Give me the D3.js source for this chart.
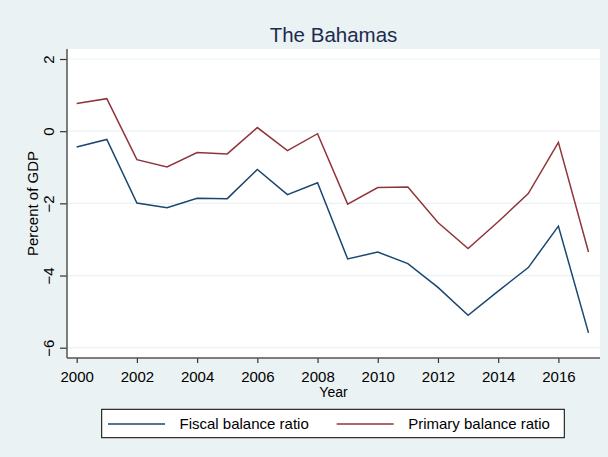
<!DOCTYPE html>
<html>
<head>
<meta charset="utf-8">
<script src="https://cdn.jsdelivr.net/npm/d3@7"></script>
<style>
  body { margin: 0; background: #fff; }
  text { font-family: "Liberation Sans", Arial, sans-serif; }
</style>
</head>
<body>
<script>
const years = [2000, 2001, 2002, 2003, 2004, 2005, 2006, 2007, 2008, 2009, 2010, 2011, 2012, 2013, 2014, 2015, 2016, 2017];
const fiscal = [-0.44, -0.23, -1.99, -2.12, -1.86, -1.87, -1.06, -1.76, -1.43, -3.54, -3.35, -3.67, -4.33, -5.10, -4.43, -3.78, -2.63, -5.59];
const primary = [0.77, 0.90, -0.79, -0.99, -0.59, -0.63, 0.10, -0.54, -0.07, -2.02, -1.56, -1.55, -2.53, -3.25, -2.51, -1.73, -0.31, -3.35];
const seriesNames = ['Fiscal balance ratio', 'Primary balance ratio'];
const xTicks = [2000, 2002, 2004, 2006, 2008, 2010, 2012, 2014, 2016];
const yTicks = [-6, -4, -2, 0, 2];

const width = 608;
const height = 457;
const plot = { left: 67, top: 49, right: 600, bottom: 358 };
const colors = ['#1a476f', '#90353b'];

const svg = d3.select('body')
    .append('svg')
    .attr('width', width)
    .attr('height', height);

// outer background
svg.append('rect')
    .attr('x', 0).attr('y', 0)
    .attr('width', width).attr('height', height)
    .attr('fill', '#eaf2f3');

svg.append('rect')
    .attr('x', plot.left).attr('y', plot.top)
    .attr('width', plot.right - plot.left)
    .attr('height', plot.bottom - plot.top)
    .attr('fill', '#fff');

const xScale = d3.scaleLinear()
    .domain([2000, 2017])
    .range([76.7, 588.5]);

const yScale = d3.scaleLinear()
    .domain([-6, 2])
    .range([347.7, 59]);

// gridlines
svg.selectAll('.grid')
    .data(yTicks)
    .enter()
    .append('line')
    .attr('class', 'grid')
    .attr('x1', plot.left)
    .attr('x2', plot.right)
    .attr('y1', (d) => yScale(d))
    .attr('y2', (d) => yScale(d))
    .attr('stroke', '#eaf2f3')
    .attr('stroke-width', 1.2);

const line = (vals) => d3.line()
    .x((d, i) => xScale(years[i]))
    .y((d) => yScale(d))(vals);

[fiscal, primary].forEach((vals, i) => {
    svg.append('path')
        .attr('d', line(vals))
        .attr('fill', 'none')
        .attr('stroke', colors[i])
        .attr('stroke-width', 1.5)
        .attr('stroke-linejoin', 'miter');
});

const xAxis = d3.axisBottom(xScale)
    .tickValues(xTicks)
    .tickFormat(d3.format('d'))
    .tickSize(5)
    .tickSizeOuter(0);

const gx = svg.append('g')
    .attr('transform', 'translate(0, ' + plot.bottom + ')')
    .call(xAxis);
gx.select('.domain').remove();
gx.selectAll('line').attr('stroke', '#333').attr('stroke-width', 1.2);
gx.selectAll('text')
    .attr('y', 24.3)
    .attr('dy', null)
    .attr('fill', '#000')
    .style('font-size', '15px');

const yAxis = d3.axisLeft(yScale)
    .tickValues(yTicks)
    .tickSize(7)
    .tickSizeOuter(0);

const gy = svg.append('g')
    .attr('transform', 'translate(' + plot.left + ', 0)')
    .call(yAxis);
gy.select('.domain').remove();
gy.selectAll('line').attr('stroke', '#333').attr('stroke-width', 1.2);
gy.selectAll('text')
    .attr('x', null)
    .attr('dy', null)
    .attr('transform', 'translate(-13, 0) rotate(-90)')
    .attr('text-anchor', 'middle')
    .attr('fill', '#000')
    .style('font-size', '15px');

// axis lines
svg.append('line')
    .attr('x1', plot.left).attr('x2', plot.left)
    .attr('y1', plot.top).attr('y2', plot.bottom)
    .attr('stroke', '#555').attr('stroke-width', 1.5);
svg.append('line')
    .attr('x1', plot.left).attr('x2', plot.right)
    .attr('y1', plot.bottom).attr('y2', plot.bottom)
    .attr('stroke', '#555').attr('stroke-width', 1.5);

const midX = (plot.left + plot.right) / 2;

svg.append('text')
    .attr('x', midX)
    .attr('y', 41.5)
    .attr('text-anchor', 'middle')
    .attr('fill', '#1c2b4f')
    .style('font-size', '20.5px')
    .text('The Bahamas');

svg.append('text')
    .attr('x', midX)
    .attr('y', 396.5)
    .attr('text-anchor', 'middle')
    .attr('fill', '#000')
    .style('font-size', '14px')
    .text('Year');

svg.append('text')
    .attr('transform', 'translate(38, ' + ((plot.top + plot.bottom) / 2) + ') rotate(-90)')
    .attr('text-anchor', 'middle')
    .attr('fill', '#000')
    .style('font-size', '15px')
    .text('Percent of GDP');

// legend
const legend = svg.append('g');
legend.append('rect')
    .attr('x', 101.7).attr('y', 409.3)
    .attr('width', 462.6).attr('height', 28.4)
    .attr('fill', '#fff')
    .attr('stroke', '#000')
    .attr('stroke-width', 1);

const legendX = [108, 336.7];
seriesNames.forEach((name, i) => {
    legend.append('line')
        .attr('x1', legendX[i]).attr('x2', legendX[i] + 57)
        .attr('y1', 424).attr('y2', 424)
        .attr('stroke', colors[i])
        .attr('stroke-width', 1.5);
    legend.append('text')
        .attr('x', legendX[i] + 71.5)
        .attr('y', 429.3)
        .attr('fill', '#000')
        .style('font-size', '15px')
        .text(name);
});
</script>
</body>
</html>
